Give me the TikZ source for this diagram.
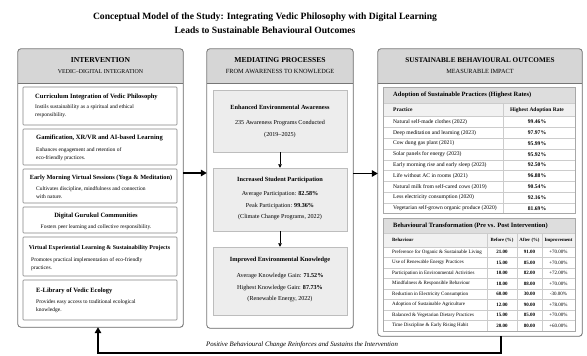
\documentclass[tikz,border=0pt]{standalone}
\usepackage{fontspec}
\setmainfont{Liberation Serif}
\usetikzlibrary{arrows.meta}
\usetikzlibrary{positioning}
\usetikzlibrary{shadows}

\definecolor{panelgray}{HTML}{767676}
\definecolor{headgray}{HTML}{D6D6D6}
\definecolor{boxgray}{HTML}{858585}
\definecolor{medfill}{HTML}{EDEDED}
\definecolor{medline}{HTML}{BDBDBD}
\definecolor{secgray}{HTML}{DDDDDD}
\definecolor{colgray}{HTML}{F1F1F1}
\definecolor{rowgray}{HTML}{CCCCCC}
\definecolor{tablegray}{HTML}{A8A8A8}

\begin{document}
\begin{tikzpicture}[x=1pt, y=-1pt,
    panel/.style={fill=white, rounded corners=3pt, inner sep=0pt,
      drop shadow={opacity=0.25, shadow xshift=0.8pt, shadow yshift=-0.8pt}},
    ivbox/.style={draw=boxgray, line width=0.6pt, fill=white, rounded corners=0.8pt, minimum width=154pt, inner sep=0pt},
    medbox/.style={draw=medline, line width=0.5pt, fill=medfill, minimum width=134pt, inner sep=0pt},
    panelhead/.style={font=\fontsize{7.6}{9}\selectfont\bfseries, inner sep=0pt},
    panelsub/.style={font=\fontsize{6.3}{7}\selectfont, inner sep=0pt},
    ivtitle/.style={font=\fontsize{6.5}{7}\selectfont\bfseries, inner sep=0pt, anchor=west},
    ivtext/.style={font=\fontsize{5.5}{8}\selectfont, inner sep=0pt, align=left, anchor=north west},
    medtitle/.style={font=\fontsize{6.3}{7}\selectfont\bfseries, inner sep=0pt},
    medtext/.style={font=\fontsize{6.1}{7}\selectfont, inner sep=0pt},
    sectitle/.style={font=\fontsize{6.5}{7}\selectfont\bfseries, inner sep=0pt, anchor=west},
    cell/.style={font=\fontsize{5.6}{6}\selectfont, inner sep=0pt},
    bcell/.style={font=\fontsize{5}{5}\selectfont, inner sep=0pt},
    bigarrow/.style={line width=1.4pt, -{Triangle[length=6pt, width=6.5pt]}},
    smallarrow/.style={line width=0.7pt, -{Triangle[length=3.5pt, width=3.6pt]}},
    rowline/.style={draw=rowgray, line width=0.4pt}
  ]
  \useasboundingbox (0,0) rectangle (587,356);

  % Title
  \node[font=\fontsize{9.6}{14}\selectfont\bfseries, align=center, inner sep=0pt] (title) at (265,23)
    {Conceptual Model of the Study: Integrating Vedic Philosophy with Digital Learning\\Leads to Sustainable Behavioural Outcomes};

  % The three panels
  \node[panel, minimum width=165pt, minimum height=278pt] (left) at (100.5,188) {};
  \node[panel, minimum width=146pt, minimum height=279pt] (mid) at (280,188.5) {};
  \node[panel, minimum width=204pt, minimum height=287pt] (right) at (480,192.5) {};

  % Grey header band of each panel
  \foreach \p in {left, mid, right}
  {
    \begin{scope}
      \clip[rounded corners=3pt] (\p.south west) rectangle (\p.north east);
      \fill[headgray] (\p.north west) rectangle ([yshift=-34pt]\p.north east);
      \draw[panelgray, line width=0.5pt] ([yshift=-34pt]\p.north west) -- ([yshift=-34pt]\p.north east);
    \end{scope}
    \draw[panelgray, line width=0.8pt, rounded corners=3pt] (\p.south west) rectangle (\p.north east);
  }

  \node[panelhead] (lefthead) at (100.5,60) {INTERVENTION};
  \node[panelsub, font=\fontsize{5.9}{7}\selectfont, below=6.5pt of lefthead] (leftsub) {VEDIC--DIGITAL INTEGRATION};
  \node[panelhead] (midhead) at (280,60) {MEDIATING PROCESSES};
  \node[panelsub, below=6.5pt of midhead] (midsub) {FROM AWARENESS TO KNOWLEDGE};
  \node[panelhead, font=\fontsize{7.2}{9}\selectfont\bfseries] (righthead) at (480,60) {SUSTAINABLE BEHAVIOURAL OUTCOMES};
  \node[panelsub, below=6.5pt of righthead] (rightsub) {MEASURABLE IMPACT};

  % Intervention components
  \node[ivbox, minimum height=38pt] (iv1) at (100,106) {};
  \node[ivtitle] (iv1t) at (35,97) {Curriculum Integration of Vedic Philosophy};
  \node[ivtext] (iv1d) at (35,104.5) {Instils sustainability as a spiritual and ethical\\responsibility.};

  \node[ivbox, minimum height=36pt] (iv2) at (100,147) {};
  \node[ivtitle] (iv2t) at (36,138) {Gamification, XR/VR and AI-based Learning};
  \node[ivtext] (iv2d) at (36,147.5) {Enhances engagement and retention of\\eco-friendly practices.};

  \node[ivbox, minimum height=34pt] (iv3) at (100,186) {};
  \node[ivtitle, anchor=center, font=\fontsize{6.3}{7}\selectfont\bfseries] (iv3t) at (101,178) {Early Morning Virtual Sessions (Yoga \& Meditation)};
  \node[ivtext] (iv3d) at (36,186.5) {Cultivates discipline, mindfulness and connection\\with nature.};

  \node[ivbox, minimum height=26pt] (iv4) at (100,220) {};
  \node[ivtitle, anchor=center] (iv4t) at (96,215.5) {Digital Gurukul Communities};
  \node[ivtext, anchor=center] (iv4d) at (96,227) {Fosters peer learning and collective responsibility.};

  \node[ivbox, minimum height=39pt] (iv5) at (100,256.5) {};
  \node[ivtitle, anchor=center, font=\fontsize{5.95}{7}\selectfont\bfseries] (iv5t) at (99.5,248.5) {Virtual Experiential Learning \& Sustainability Projects};
  \node[ivtext] (iv5d) at (31,257.5) {Promotes practical implementation of eco-friendly\\practices.};

  \node[ivbox, minimum height=40pt] (iv6) at (100,300) {};
  \node[ivtitle] (iv6t) at (36,291) {E-Library of Vedic Ecology};
  \node[ivtext] (iv6d) at (36,299.5) {Provides easy access to traditional ecological\\knowledge.};

  % Mediating chain
  \node[medbox, minimum height=62pt] (aware) at (280,121) {};
  \node[medtitle] (awaret) at (280,107) {Enhanced Environmental Awareness};
  \node[medtext] (awarec) at (280,123) {235 Awareness Programs Conducted};
  \node[medtext] (awarey) at (280,135) {(2019--2025)};

  \node[medbox, minimum height=63pt] (partic) at (280,199.5) {};
  \node[medtitle] (partict) at (280,180) {Increased Student Participation};
  \node[medtext] (partica) at (280,194) {Average Participation: \textbf{82.58\%}};
  \node[medtext] (particp) at (280,206) {Peak Participation: \textbf{99.36\%}};
  \node[medtext] (particn) at (280,217) {(Climate Change Programs, 2022)};

  \node[medbox, minimum height=68pt] (know) at (280,281) {};
  \node[medtitle] (knowt) at (280,260) {Improved Environmental Knowledge};
  \node[medtext] (knowa) at (280,276) {Average Knowledge Gain: \textbf{71.52\%}};
  \node[medtext] (knowh) at (280,288) {Highest Knowledge Gain: \textbf{87.73\%}};
  \node[medtext] (known) at (280,299) {(Renewable Energy, 2022)};

  \draw[smallarrow] (aware) -- (partic);
  \draw[smallarrow] (partic) -- (know);

  % Adoption table
  \fill[secgray] (383,87) rectangle (575,103);
  \fill[colgray] (383,103) rectangle (575,116.5);
  \draw[rowline] (383,103) -- (575,103);
  \foreach \k in {0,...,8}
    \draw[rowline] (383,{116.5+10.8*\k}) -- (575,{116.5+10.8*\k});
  \draw[rowline] (503,103) -- (503,213.7);
  \node[draw=tablegray, line width=0.6pt, minimum width=192pt, minimum height=126.7pt, inner sep=0pt] (adopt) at (479,150.35) {};
  \node[sectitle] (adoptt) at (393,95) {Adoption of Sustainable Practices (Highest Rates)};
  \node[cell, font=\fontsize{5.5}{6}\selectfont\bfseries, anchor=west] (practh) at (393,110) {Practice};
  \node[cell, font=\fontsize{5.5}{6}\selectfont\bfseries] (rateh) at (537,110) {Highest Adoption Rate};
  \foreach \pr/\rt [count=\i] in {
      Natural self-made clothes (2022)/99.46\%,
      Deep meditation and learning (2023)/97.97\%,
      Cow dung gas plant (2021)/95.99\%,
      Solar panels for energy (2023)/95.92\%,
      Early morning rise and early sleep (2023)/92.50\%,
      Life without AC in rooms (2021)/96.88\%,
      Natural milk from self-cared cows (2019)/90.54\%,
      Less electricity consumption (2020)/92.16\%,
      Vegetarian self-grown organic produce (2020)/81.69\%}
  {
    \node[cell, anchor=west] (ap\i) at (393,{111.1+10.8*\i}) {\pr};
    \node[cell, font=\fontsize{5.6}{6}\selectfont\bfseries] (ar\i) at (537,{111.1+10.8*\i}) {\rt};
  }

  % Before / after table
  \fill[secgray] (383,218) rectangle (575,233);
  \fill[colgray] (383,233) rectangle (575,247);
  \draw[rowline] (383,233) -- (575,233);
  \foreach \k in {0,...,7}
    \draw[rowline] (383,{247+10.5*\k}) -- (575,{247+10.5*\k});
  \foreach \x in {487, 517, 542}
    \draw[rowline] (\x,233) -- (\x,331);
  \node[draw=tablegray, line width=0.6pt, minimum width=192pt, minimum height=113pt, inner sep=0pt] (behave) at (479,274.5) {};
  \node[sectitle] (behavet) at (393,225.5) {Behavioural Transformation (Pre vs. Post Intervention)};
  \node[bcell, font=\fontsize{4.8}{5}\selectfont\bfseries, anchor=west] (behh) at (392,240) {Behaviour};
  \node[bcell, font=\fontsize{4.8}{5}\selectfont\bfseries] (preh) at (502,240) {Before (\%)};
  \node[bcell, font=\fontsize{4.8}{5}\selectfont\bfseries] (posth) at (529.5,240) {After (\%)};
  \node[bcell, font=\fontsize{4.8}{5}\selectfont\bfseries] (gainh) at (558.5,240) {Improvement};
  \foreach \bh/\pre/\post/\gain [count=\i] in {
      Preference for Organic \& Sustainable Living/21.00/91.00/+70.00\%,
      Use of Renewable Energy Practices/15.00/85.00/+70.00\%,
      Participation in Environmental Activities/10.00/82.00/+72.00\%,
      Mindfulness \& Responsible Behaviour/18.00/88.00/+70.00\%,
      Reduction in Electricity Consumption/60.00/30.00/-30.00\%,
      Adoption of Sustainable Agriculture/12.00/90.00/+78.00\%,
      Balanced \& Vegetarian Dietary Practices/15.00/85.00/+70.00\%,
      Time Discipline \& Early Rising Habit/20.00/80.00/+60.00\%}
  {
    \node[bcell, anchor=west] (bh\i) at (392,{241.75+10.5*\i}) {\bh};
    \node[bcell, font=\fontsize{5}{5}\selectfont\bfseries] (bb\i) at (502,{241.75+10.5*\i}) {\pre};
    \node[bcell, font=\fontsize{5}{5}\selectfont\bfseries] (ba\i) at (529.5,{241.75+10.5*\i}) {\post};
    \node[bcell] (bi\i) at (558.5,{241.75+10.5*\i}) {\gain};
  }

  % Flow between panels
  \draw[bigarrow] ([yshift=15pt]left.east) -- ([yshift=15pt]left.east -| mid.west);
  \draw[bigarrow] ([yshift=15pt]mid.east) -- ([yshift=15pt]mid.east -| right.west);

  % Feedback loop back to the intervention
  \coordinate (loopR) at (501,353);
  \coordinate (loopL) at (98,353);
  \draw[bigarrow] (loopR |- right.south) -- (loopR) -- (loopL) -- (loopL |- left.south);
  \node[font=\fontsize{6.8}{7}\selectfont\itshape, inner sep=0pt] (looptext) at (302,345)
    {Positive Behavioural Change Reinforces and Sustains the Intervention};
\end{tikzpicture}
\end{document}
